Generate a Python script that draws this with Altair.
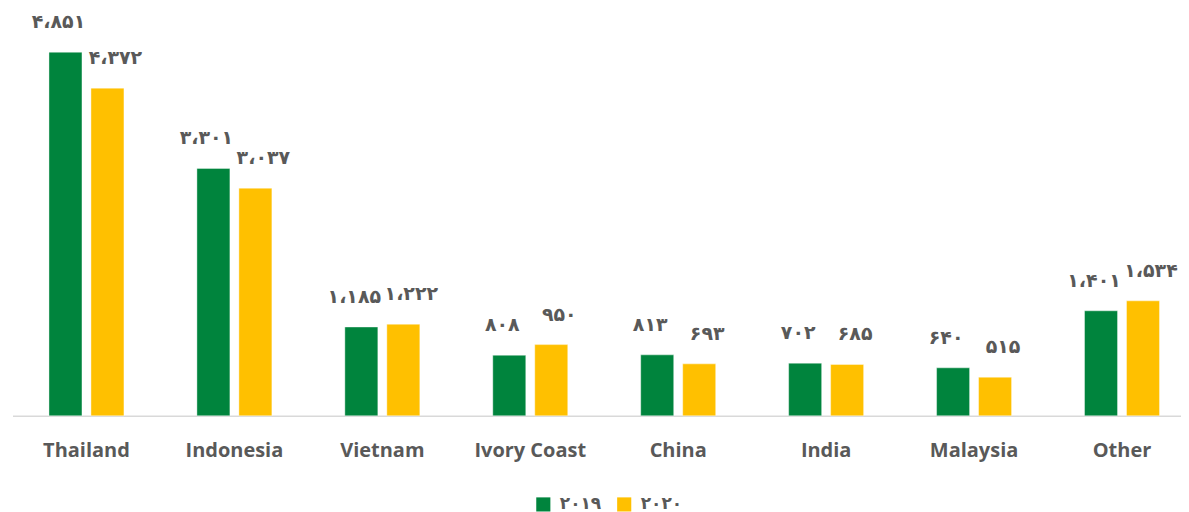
import altair as alt
import pandas as pd

countries = ["Thailand", "Indonesia", "Vietnam", "Ivory Coast", "China", "India", "Malaysia", "Other"]
v2019 = [4851, 3301, 1185, 808, 813, 702, 640, 1401]
v2020 = [4372, 3037, 1222, 950, 693, 685, 515, 1534]
years = ["۲۰۱۹", "۲۰۲۰"]
colors = ["#00843D", "#FFC000"]

PERSIAN = str.maketrans("0123456789,", "۰۱۲۳۴۵۶۷۸۹،")


def fa(n):
    return f"{n:,}".translate(PERSIAN)


rows = []
for c, a, b in zip(countries, v2019, v2020):
    rows.append({"country": c, "year": years[0], "value": a, "label": fa(a)})
    rows.append({"country": c, "year": years[1], "value": b, "label": fa(b)})
df = pd.DataFrame(rows)

x = alt.X("country:N", sort=countries, title=None,
          scale=alt.Scale(range=[0, 1185], paddingInner=0, paddingOuter=0),
          axis=alt.Axis(labelAngle=0, ticks=False, labelFont="Open Sans", labelFontWeight="bold",
                        labelFontSize=20, labelColor="#595959", labelPadding=25,
                        domainColor="#D9D9D9", domainWidth=1.5, grid=False))
xo = alt.XOffset("year:N", sort=years,
                 scale=alt.Scale(paddingInner=0.214, paddingOuter=0.869))
y = alt.Y("value:Q", scale=alt.Scale(domain=[0, 5437], nice=False), axis=None)

base = alt.Chart(df).encode(x=x, xOffset=xo, y=y)

bars = base.mark_bar(stroke="white", strokeOpacity=0.4, strokeWidth=1).encode(
    color=alt.Color("year:N", sort=years, scale=alt.Scale(domain=years, range=colors),
                    legend=alt.Legend(title=None, orient="none", direction="horizontal",
                                      legendX=523, legendY=488, symbolType="square",
                                      symbolSize=200, symbolStrokeWidth=0,
                                      labelFont="DejaVu Sans", labelFontWeight="bold",
                                      labelFontSize=17, labelColor="#595959",
                                      columnPadding=14, labelOffset=8))
)

text_style = dict(baseline="alphabetic", dy=-24, font="DejaVu Sans",
                  fontWeight="bold", fontSize=19, color="#595959")
labels_a = base.mark_text(dx=-7, **text_style).encode(text="label:N").transform_filter(
    alt.datum.year == years[0])
labels_b = base.mark_text(dx=8, **text_style).encode(text="label:N").transform_filter(
    alt.datum.year == years[1])

chart = (bars + labels_a + labels_b).properties(
    width=1170, height=408,
    autosize=alt.AutoSizeParams(type="none"),
    padding={"left": 4.5, "top": 0, "right": 0, "bottom": 96},
).configure_view(stroke=None)

chart.save("out.html", embed_options={"renderer": "svg", "actions": False})
